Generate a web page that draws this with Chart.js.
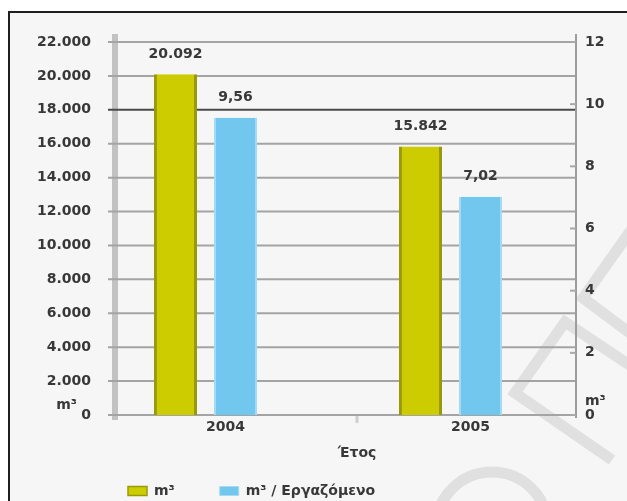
<!DOCTYPE html>
<html lang="el">
<head>
<meta charset="utf-8">
<title>Κατανάλωση νερού m³</title>
<script src="https://cdn.jsdelivr.net/npm/chart.js@4/dist/chart.umd.min.js"></script>
<style>
  html, body { margin: 0; padding: 0; background: #fff; overflow: hidden; }
  body { width: 627px; height: 501px; position: relative; }
  .frame {
    position: absolute; left: 8px; top: 11px;
    width: 640px; height: 560px;
    border: 2px solid #1f1f1f; background: #f6f6f6;
  }
  .chart-wrapper { position: absolute; left: 0; top: 0; width: 627px; height: 508px; }
</style>
</head>
<body>
<div class="frame"></div>
<div class="chart-wrapper"><canvas id="volumeChart"></canvas></div>
<script>
const YEARS = ["2004", "2005"];
const VOLUME_M3 = [20092, 15842];
const VOLUME_PER_EMPLOYEE = [9.56, 7.02];
const SERIES_LABELS = ["m³", "m³ / Εργαζόμενο"];
const AXIS_TITLE = "Έτος";
const UNIT_LABEL = "m³";
const LEFT_AXIS_MAX = 22000;
const LEFT_AXIS_STEP = 2000;
const RIGHT_AXIS_MAX = 12;
const RIGHT_AXIS_STEP = 2;
const HIGHLIGHT_LINE = 18000;

const FONT = '"DejaVu Sans", sans-serif';
const TEXT_COLOR = "#383838";

Chart.defaults.font.family = FONT;
Chart.defaults.font.size = 14;
Chart.defaults.font.weight = "bold";
Chart.defaults.color = TEXT_COLOR;

// 20092 -> "20.092"
function formatThousands(value) {
  return String(Math.round(value)).replace(/\B(?=(\d{3})+(?!\d))/g, ".");
}

// 9.56 -> "9,56"
function formatDecimal(value) {
  return value.toFixed(2).replace(".", ",");
}

// faint logo stamped on the page background
const watermarkPlugin = {
  id: "watermark",
  beforeDraw(chart) {
    const ctx = chart.ctx;
    ctx.save();
    ctx.strokeStyle = "#e0e0e0";
    ctx.lineWidth = 11;
    ctx.beginPath();
    ctx.moveTo(634, 226);
    ctx.lineTo(583, 298);
    ctx.lineTo(634, 336);
    ctx.moveTo(634, 368);
    ctx.lineTo(565, 322);
    ctx.lineTo(515, 393);
    ctx.lineTo(612, 460);
    ctx.stroke();
    ctx.beginPath();
    ctx.arc(492, 528, 56, Math.PI, 2 * Math.PI);
    ctx.stroke();
    ctx.restore();
  },
};

// back wall, grid lines, right axis line, axis title and unit labels
const axisFramePlugin = {
  id: "axisFrame",
  beforeDatasetsDraw(chart) {
    const { ctx, chartArea, scales } = chart;
    const { left, right, top, bottom } = chartArea;
    const axisX = right + 3;
    ctx.save();

    ctx.fillStyle = "#c2c2c2";
    ctx.fillRect(left + 29, top - 8, 6, bottom - top + 13);

    scales.y.ticks.forEach((tick) => {
      const y = scales.y.getPixelForValue(tick.value);
      ctx.strokeStyle = tick.value === HIGHLIGHT_LINE ? "#4a4a4a" : "#a4a4a4";
      ctx.lineWidth = 2;
      ctx.beginPath();
      ctx.moveTo(left + 25, y);
      ctx.lineTo(axisX, y);
      ctx.stroke();
    });

    ctx.strokeStyle = "#9c9c9c";
    ctx.lineWidth = 2;
    ctx.beginPath();
    ctx.moveTo(axisX, top - 8);
    ctx.lineTo(axisX, bottom + 3);
    ctx.stroke();

    ctx.strokeStyle = "#a8a8a8";
    scales.y1.ticks.forEach((tick) => {
      const y = scales.y1.getPixelForValue(tick.value);
      ctx.beginPath();
      ctx.moveTo(axisX - 6, y);
      ctx.lineTo(axisX, y);
      ctx.stroke();
    });

    // separator tick between the two years, with the axis title under it
    const midX = (scales.x.getPixelForValue(0) + scales.x.getPixelForValue(1)) / 2 + 29;
    ctx.strokeStyle = "#cfcfcf";
    ctx.lineWidth = 3;
    ctx.beginPath();
    ctx.moveTo(midX, bottom + 1);
    ctx.lineTo(midX, bottom + 8);
    ctx.stroke();

    const zeroY = scales.y.getPixelForValue(0);
    ctx.fillStyle = TEXT_COLOR;
    ctx.font = `bold 14px ${FONT}`;
    ctx.textBaseline = "middle";
    ctx.textAlign = "center";
    ctx.fillText(AXIS_TITLE, midX, bottom + 38);
    ctx.textAlign = "right";
    ctx.fillText(UNIT_LABEL, left - 6, zeroY - 10);
    ctx.textAlign = "left";
    ctx.fillText(UNIT_LABEL, axisX + 9, zeroY - 14);
    ctx.restore();
  },
};

// value printed above every bar
const valueLabelPlugin = {
  id: "valueLabels",
  afterDatasetsDraw(chart) {
    const ctx = chart.ctx;
    ctx.save();
    ctx.font = `bold 14px ${FONT}`;
    ctx.fillStyle = TEXT_COLOR;
    ctx.textAlign = "center";
    ctx.textBaseline = "middle";
    chart.data.datasets.forEach((dataset, i) => {
      const format = i === 0 ? formatThousands : formatDecimal;
      chart.getDatasetMeta(i).data.forEach((bar, j) => {
        ctx.fillText(format(dataset.data[j]), bar.x, bar.y - 20);
      });
    });
    ctx.restore();
  },
};

new Chart(document.getElementById("volumeChart"), {
  type: "bar",
  data: {
    labels: YEARS,
    datasets: [
      {
        label: SERIES_LABELS[0],
        data: VOLUME_M3,
        yAxisID: "y",
        backgroundColor: "#cccc00",
        borderColor: "#9a9a08",
        borderWidth: { left: 3, right: 3, top: 0, bottom: 0 },
        borderSkipped: false,
        categoryPercentage: 0.49,
        barPercentage: 0.717,
      },
      {
        label: SERIES_LABELS[1],
        data: VOLUME_PER_EMPLOYEE,
        yAxisID: "y1",
        backgroundColor: "#72c7ee",
        borderColor: "#a4daf4",
        borderWidth: { left: 2, right: 2, top: 0, bottom: 0 },
        borderSkipped: false,
        categoryPercentage: 0.49,
        barPercentage: 0.717,
      },
    ],
  },
  options: {
    responsive: true,
    maintainAspectRatio: false,
    animation: false,
    layout: { padding: { top: 42, right: 0, bottom: 0, left: 0 } },
    scales: {
      x: {
        offset: true,
        grid: { display: false, drawTicks: false },
        border: { display: false },
        ticks: { padding: 4, labelOffset: 20 },
        afterFit(scale) { scale.height = 24; },
      },
      y: {
        position: "left",
        min: 0,
        max: LEFT_AXIS_MAX,
        grid: { display: false, drawTicks: false },
        border: { display: false },
        // mirrored + far alignment keeps the labels right-aligned just left of the wall
        ticks: {
          stepSize: LEFT_AXIS_STEP,
          mirror: true,
          crossAlign: "far",
          padding: -46,
          callback: (value) => formatThousands(value),
        },
        afterFit(scale) { scale.width = 83; },
      },
      y1: {
        position: "right",
        min: 0,
        max: RIGHT_AXIS_MAX,
        grid: { display: false, drawTicks: false },
        border: { display: false },
        ticks: { stepSize: RIGHT_AXIS_STEP, padding: 12 },
        afterFit(scale) { scale.width = 54; },
      },
    },
    plugins: {
      legend: {
        position: "bottom",
        align: "start",
        fullSize: false,
        labels: { boxWidth: 19, boxHeight: 9, padding: 45 },
      },
      tooltip: { enabled: false },
    },
  },
  plugins: [watermarkPlugin, axisFramePlugin, valueLabelPlugin],
});
</script>
</body>
</html>
